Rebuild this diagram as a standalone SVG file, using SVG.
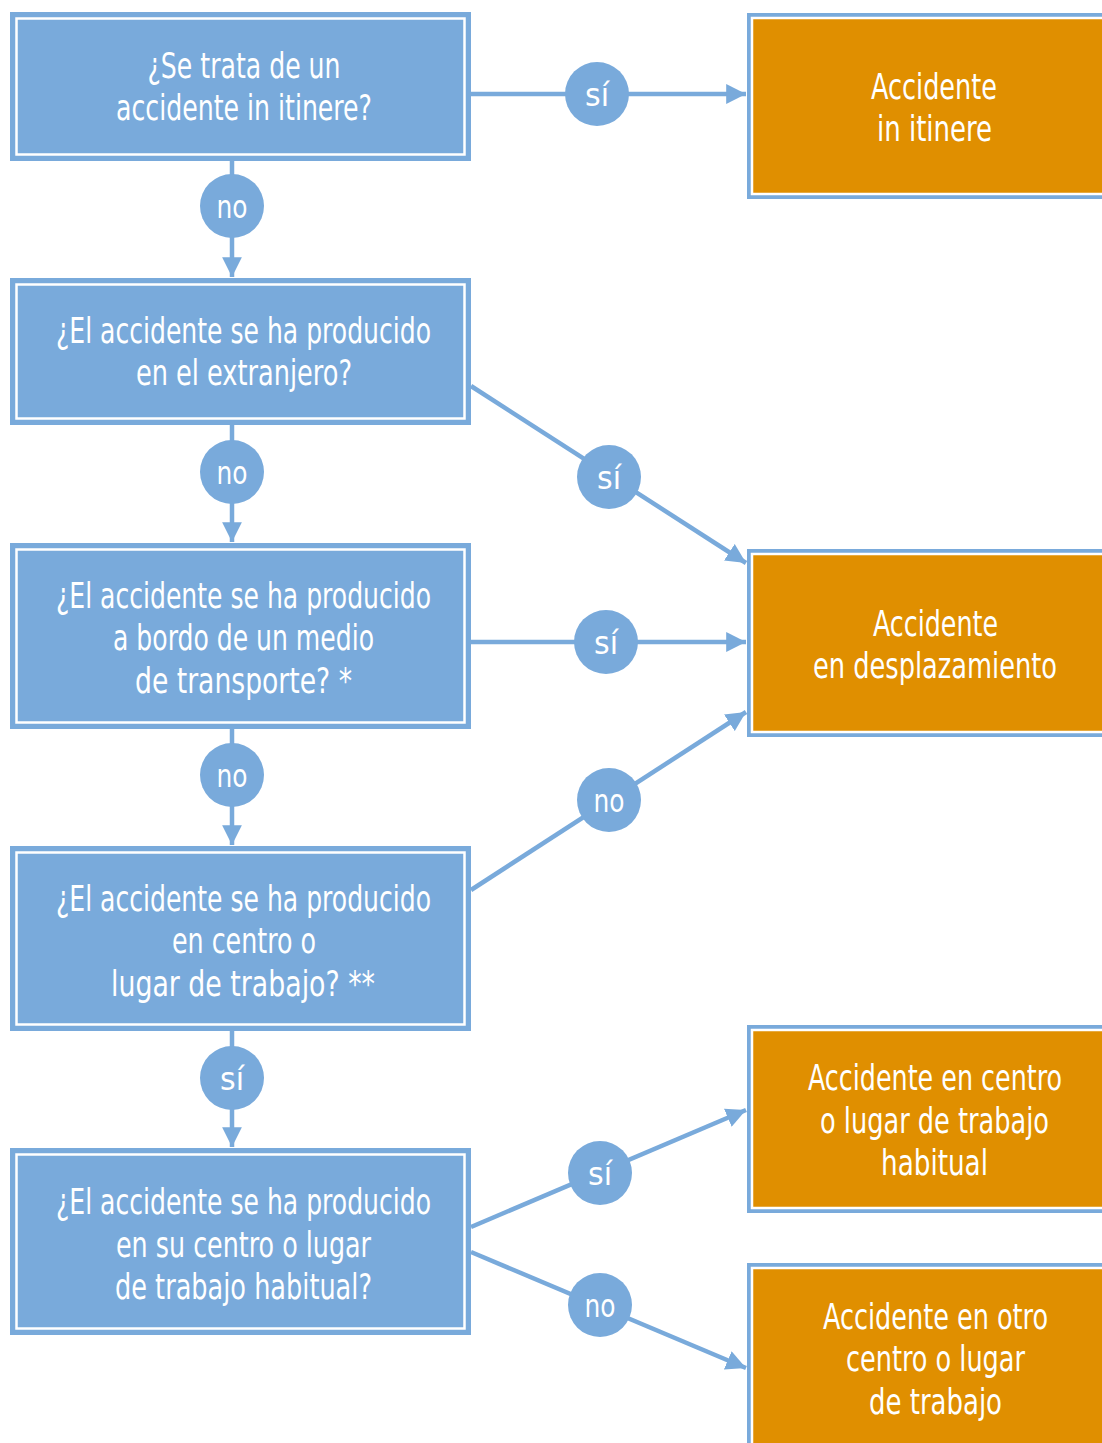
<svg xmlns="http://www.w3.org/2000/svg" width="1102" height="1443" viewBox="0 0 1102 1443">
<style>
.bo{fill:#79aadb}
.or{fill:#e08f00}
.inl{fill:none;stroke:#fff;stroke-width:2.5}
.t{font-family:"Liberation Sans Narrow","DejaVu Sans Condensed","Liberation Sans",sans-serif;font-size:35px;fill:#fff;text-anchor:middle}
.c{fill:#79aadb}
.ct{font-family:"Liberation Sans Narrow","DejaVu Sans Condensed","Liberation Sans",sans-serif;font-size:32px;fill:#fff;text-anchor:middle}
.ln{stroke:#79aadb;stroke-width:4.5;fill:none;marker-end:url(#ah)}
</style>
<defs>
<marker id="ah" viewBox="0 0 10 10" refX="10" refY="5" markerWidth="4.4" markerHeight="4.4" orient="auto" markerUnits="strokeWidth">
<path d="M0,0 L10,5 L0,10 z" fill="#79aadb"/>
</marker>
</defs>
<g id="connectors">
<line class="ln" x1="471" y1="94" x2="746" y2="94"/>
<line class="ln" x1="232" y1="161" x2="232" y2="277"/>
<line class="ln" x1="232" y1="425" x2="232" y2="542"/>
<line class="ln" x1="232" y1="729" x2="232" y2="845"/>
<line class="ln" x1="232" y1="1031" x2="232" y2="1147"/>
<line class="ln" x1="471" y1="386" x2="746" y2="563"/>
<line class="ln" x1="471" y1="642" x2="746" y2="642"/>
<line class="ln" x1="471" y1="890" x2="746" y2="712"/>
<line class="ln" x1="471" y1="1227" x2="746" y2="1110"/>
<line class="ln" x1="471" y1="1252" x2="746" y2="1368"/>
<g class="labels">
<circle class="c" cx="597" cy="94" r="32"/><text class="ct" x="597" y="106" textLength="24" lengthAdjust="spacingAndGlyphs">sí</text>
<circle class="c" cx="232" cy="206" r="32"/><text class="ct" x="232" y="218" textLength="31" lengthAdjust="spacingAndGlyphs">no</text>
<circle class="c" cx="232" cy="472" r="32"/><text class="ct" x="232" y="484" textLength="31" lengthAdjust="spacingAndGlyphs">no</text>
<circle class="c" cx="609" cy="477" r="32"/><text class="ct" x="609" y="489" textLength="24" lengthAdjust="spacingAndGlyphs">sí</text>
<circle class="c" cx="606" cy="642" r="32"/><text class="ct" x="606" y="654" textLength="24" lengthAdjust="spacingAndGlyphs">sí</text>
<circle class="c" cx="232" cy="775" r="32"/><text class="ct" x="232" y="787" textLength="31" lengthAdjust="spacingAndGlyphs">no</text>
<circle class="c" cx="609" cy="800" r="32"/><text class="ct" x="609" y="812" textLength="31" lengthAdjust="spacingAndGlyphs">no</text>
<circle class="c" cx="232" cy="1078" r="32"/><text class="ct" x="232" y="1090" textLength="24" lengthAdjust="spacingAndGlyphs">sí</text>
<circle class="c" cx="600" cy="1173" r="32"/><text class="ct" x="600" y="1185" textLength="24" lengthAdjust="spacingAndGlyphs">sí</text>
<circle class="c" cx="600" cy="1305" r="32"/><text class="ct" x="600" y="1317" textLength="31" lengthAdjust="spacingAndGlyphs">no</text>
</g>
</g>
<g id="q1">
<rect class="bo" x="10" y="12" width="461" height="149"/>
<rect class="inl" x="16.5" y="18.5" width="448" height="136"/>
<text class="t" x="244" y="78" textLength="193" lengthAdjust="spacingAndGlyphs">¿Se trata de un</text>
<text class="t" x="244" y="120" textLength="256" lengthAdjust="spacingAndGlyphs">accidente in itinere?</text>
</g>
<g id="q2">
<rect class="bo" x="10" y="278" width="461" height="147"/>
<rect class="inl" x="16.5" y="284.5" width="448" height="134"/>
<text class="t" x="243.5" y="343" textLength="375" lengthAdjust="spacingAndGlyphs">¿El accidente se ha producido</text>
<text class="t" x="244" y="385" textLength="216" lengthAdjust="spacingAndGlyphs">en el extranjero?</text>
</g>
<g id="q3">
<rect class="bo" x="10" y="543" width="461" height="186"/>
<rect class="inl" x="16.5" y="549.5" width="448" height="173"/>
<text class="t" x="243.5" y="608" textLength="375" lengthAdjust="spacingAndGlyphs">¿El accidente se ha producido</text>
<text class="t" x="243.5" y="650" textLength="261" lengthAdjust="spacingAndGlyphs">a bordo de un medio</text>
<text class="t" x="243.5" y="693" textLength="217" lengthAdjust="spacingAndGlyphs">de transporte? *</text>
</g>
<g id="q4">
<rect class="bo" x="10" y="846" width="461" height="185"/>
<rect class="inl" x="16.5" y="852.5" width="448" height="172"/>
<text class="t" x="243.5" y="911" textLength="375" lengthAdjust="spacingAndGlyphs">¿El accidente se ha producido</text>
<text class="t" x="244" y="953" textLength="144" lengthAdjust="spacingAndGlyphs">en centro o</text>
<text class="t" x="243" y="996" textLength="264" lengthAdjust="spacingAndGlyphs">lugar de trabajo? **</text>
</g>
<g id="q5">
<rect class="bo" x="10" y="1148" width="461" height="187"/>
<rect class="inl" x="16.5" y="1154.5" width="448" height="174"/>
<text class="t" x="243.5" y="1214" textLength="375" lengthAdjust="spacingAndGlyphs">¿El accidente se ha producido</text>
<text class="t" x="243.5" y="1257" textLength="255" lengthAdjust="spacingAndGlyphs">en su centro o lugar</text>
<text class="t" x="243.5" y="1299" textLength="257" lengthAdjust="spacingAndGlyphs">de trabajo habitual?</text>
</g>
<g id="r1">
<rect class="bo" x="747" y="13" width="355" height="186"/>
<rect class="or" x="753" y="19" width="349" height="174"/>
<path class="inl" d="M1102,18 H752 V194 H1102"/>
<text class="t" x="934" y="99" textLength="126" lengthAdjust="spacingAndGlyphs">Accidente</text>
<text class="t" x="934.5" y="141" textLength="115" lengthAdjust="spacingAndGlyphs">in itinere</text>
</g>
<g id="r2">
<rect class="bo" x="747" y="549" width="355" height="188"/>
<rect class="or" x="753" y="555" width="349" height="176"/>
<path class="inl" d="M1102,554 H752 V732 H1102"/>
<text class="t" x="935.5" y="636" textLength="125" lengthAdjust="spacingAndGlyphs">Accidente</text>
<text class="t" x="935" y="678" textLength="244" lengthAdjust="spacingAndGlyphs">en desplazamiento</text>
</g>
<g id="r3">
<rect class="bo" x="747" y="1025" width="355" height="188"/>
<rect class="or" x="753" y="1031" width="349" height="176"/>
<path class="inl" d="M1102,1030 H752 V1208 H1102"/>
<text class="t" x="935" y="1090" textLength="254" lengthAdjust="spacingAndGlyphs">Accidente en centro</text>
<text class="t" x="934.5" y="1133" textLength="229" lengthAdjust="spacingAndGlyphs">o lugar de trabajo</text>
<text class="t" x="934.5" y="1175" textLength="107" lengthAdjust="spacingAndGlyphs">habitual</text>
</g>
<g id="r4">
<rect class="bo" x="747" y="1263" width="355" height="180"/>
<rect class="or" x="753" y="1269" width="349" height="174"/>
<path class="inl" d="M1102,1268 H752 V1443"/>
<text class="t" x="935.5" y="1329" textLength="225" lengthAdjust="spacingAndGlyphs">Accidente en otro</text>
<text class="t" x="935.5" y="1371" textLength="179" lengthAdjust="spacingAndGlyphs">centro o lugar</text>
<text class="t" x="935.5" y="1414" textLength="133" lengthAdjust="spacingAndGlyphs">de trabajo</text>
</g>
</svg>
